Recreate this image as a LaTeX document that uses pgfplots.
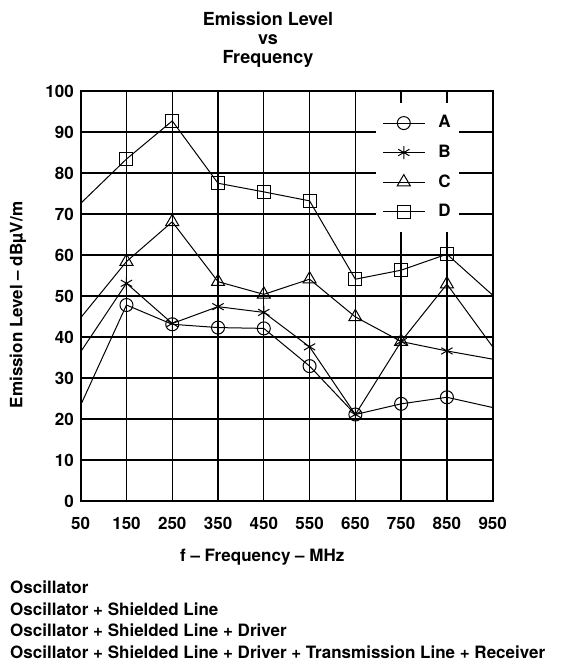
\documentclass[border=0pt]{standalone}
\usepackage{fontspec}
\setmainfont{TeX Gyre Heros}
\usepackage{pgfplots}
\pgfplotsset{compat=1.18}
\newcommand{\bigf}{\fontsize{17}{20}\selectfont\bfseries}
\begin{document}
\bigf
\begin{tikzpicture}[x=1pt,y=1pt]
\useasboundingbox (0,0) rectangle (564,-662);
\begin{axis}[
  at={(80.7pt,-501pt)}, anchor=south west,
  scale only axis, width=412pt, height=410pt,
  xmin=50, xmax=950, ymin=0, ymax=100,
  xtick={50,150,...,950}, ytick={0,10,...,100},
  grid=major, major grid style={black, line width=1.3pt},
  axis line style={line width=2pt},
  major tick length=0pt,
  /pgf/number format/assume math mode=true,
  ticklabel style={font=\bigf},
  yticklabel style={xshift=-1pt},
  xticklabel style={yshift=-10pt},
  legend style={at={(0.717,0.971)}, anchor=north west, draw=none, fill=white,
    font=\bigf, row sep=10.5pt, inner xsep=6pt, inner ysep=10.5pt,
    /tikz/every odd column/.append style={column sep=11pt}},
  legend cell align=left,
  legend image code/.code={\draw[#1, mark indices={2}] plot coordinates {(0pt,0pt) (21pt,0pt) (42pt,0pt)};},
  every axis plot/.append style={black, line width=1pt, mark options={solid, fill=white, line width=1pt}},
]
\addplot[mark=o, mark size=6.5pt, mark indices={2,3,4,5,6,7,8,9}] coordinates {(50,23.4)(150,47.8)(250,43.1)(350,42.3)(450,42.1)(550,32.9)(650,21.1)(750,23.7)(850,25.3)(950,22.8)};
\addplot[mark=asterisk, mark size=6.5pt, mark indices={2,3,4,5,6,7,8,9}] coordinates {(50,36.4)(150,53.1)(250,43.3)(350,47.4)(450,46.0)(550,37.6)(650,21.1)(750,38.9)(850,36.6)(950,34.6)};
\addplot[mark=triangle, mark size=7.5pt, mark indices={2,3,4,5,6,7,8,9}] coordinates {(50,44.7)(150,58.4)(250,68.1)(350,53.5)(450,50.4)(550,54.1)(650,44.9)(750,38.9)(850,52.9)(950,37.6)};
\addplot[mark=square, mark size=6.5pt, mark indices={2,3,4,5,6,7,8,9}] coordinates {(50,72.6)(150,83.4)(250,92.7)(350,77.5)(450,75.4)(550,73.2)(650,54.1)(750,56.3)(850,60.2)(950,50.2)};
\legend{A,B,C,D}
\end{axis}
\node[anchor=base, font=\fontsize{18}{20}\selectfont\bfseries] at (268,-25) {Emission Level};
\node[anchor=base, font=\fontsize{18}{20}\selectfont\bfseries] at (268,-44) {vs};
\node[anchor=base, font=\fontsize{18}{20}\selectfont\bfseries] at (268,-63) {Frequency};
\node[rotate=90, font=\bigf] at (18,-305) {Emission Level – dBµV/m};
\node[anchor=base west, inner sep=0pt, font=\bigf] at (180,-561) {f – Frequency – MHz};
\node[anchor=base west, inner sep=0pt, font=\bigf] at (10,-593.5) {Oscillator};
\node[anchor=base west, inner sep=0pt, font=\bigf] at (10,-615) {Oscillator + Shielded Line};
\node[anchor=base west, inner sep=0pt, font=\bigf] at (10,-636.5) {Oscillator + Shielded Line + Driver};
\node[anchor=base west, inner sep=0pt, font=\bigf] at (10,-658) {Oscillator + Shielded Line + Driver + Transmission Line + Receiver};
\end{tikzpicture}
\end{document}
